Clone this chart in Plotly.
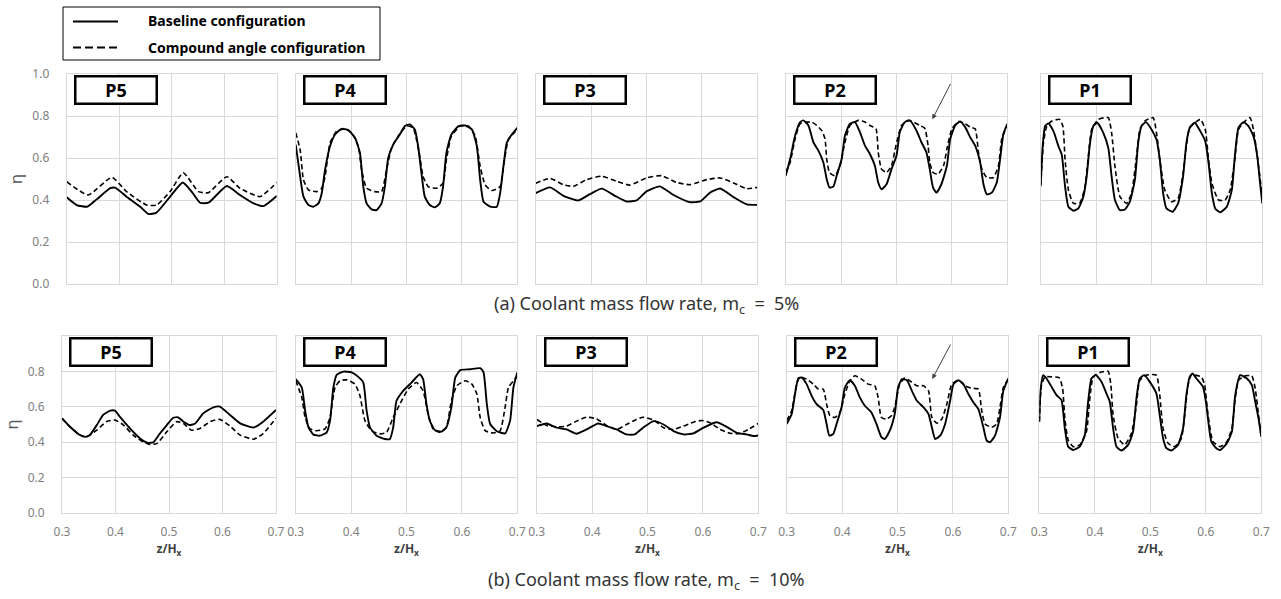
import plotly.graph_objects as go

# ---------------- DATA ----------------
PANEL_NAMES = ["P5", "P4", "P3", "P2", "P1"]
X_TICKS = [0.3, 0.4, 0.5, 0.6, 0.7]
Y_TICKS_TOP = [0.0, 0.2, 0.4, 0.6, 0.8, 1.0]
Y_TICKS_BOTTOM = [0.0, 0.2, 0.4, 0.6, 0.8]
LEGEND_NAMES = ["Baseline configuration", "Compound angle configuration"]
CAPTION_A = "(a) Coolant mass flow rate, m<sub>c</sub> \u00a0=\u00a0 5%"
CAPTION_B = "(b) Coolant mass flow rate, m<sub>c</sub> \u00a0=\u00a0 10%"

# ---- (a) m_c = 5% ----
A_P5_BASE_X = [0.300, 0.319, 0.339, 0.357, 0.383, 0.392, 0.414, 0.440, 0.456, 0.471, 0.497, 0.521, 0.538, 0.554, 0.570, 0.605, 0.630, 0.656, 0.675, 0.700]
A_P5_BASE_Y = [0.413, 0.376, 0.368, 0.403, 0.456, 0.459, 0.416, 0.368, 0.333, 0.340, 0.416, 0.483, 0.440, 0.387, 0.387, 0.467, 0.424, 0.384, 0.371, 0.419]
A_P5_COMP_X = [0.300, 0.341, 0.386, 0.414, 0.452, 0.471, 0.497, 0.522, 0.551, 0.570, 0.605, 0.630, 0.668, 0.700]
A_P5_COMP_Y = [0.487, 0.424, 0.508, 0.440, 0.376, 0.376, 0.440, 0.530, 0.440, 0.435, 0.511, 0.456, 0.416, 0.483]

A_P4_BASE_X = [0.300, 0.308, 0.314, 0.323, 0.332, 0.341, 0.347, 0.353, 0.362, 0.371, 0.383, 0.395, 0.407, 0.416, 0.422, 0.428, 0.437, 0.446, 0.455, 0.461, 0.467, 0.476, 0.488, 0.497, 0.506, 0.515, 0.521, 0.527, 0.533, 0.542, 0.551, 0.560, 0.566, 0.572, 0.581, 0.594, 0.606, 0.618, 0.627, 0.633, 0.639, 0.651, 0.663, 0.669, 0.675, 0.681, 0.690, 0.700]
A_P4_BASE_Y = [0.664, 0.512, 0.416, 0.376, 0.368, 0.384, 0.432, 0.544, 0.656, 0.712, 0.739, 0.733, 0.696, 0.624, 0.464, 0.384, 0.355, 0.352, 0.384, 0.464, 0.600, 0.664, 0.712, 0.752, 0.760, 0.736, 0.656, 0.528, 0.416, 0.376, 0.365, 0.384, 0.464, 0.624, 0.712, 0.752, 0.755, 0.736, 0.656, 0.496, 0.392, 0.368, 0.368, 0.432, 0.560, 0.672, 0.712, 0.744]
A_P4_COMP_X = [0.300, 0.308, 0.314, 0.323, 0.338, 0.347, 0.353, 0.362, 0.374, 0.389, 0.401, 0.413, 0.419, 0.428, 0.443, 0.455, 0.464, 0.473, 0.485, 0.500, 0.512, 0.518, 0.524, 0.530, 0.539, 0.554, 0.566, 0.572, 0.581, 0.597, 0.612, 0.624, 0.633, 0.642, 0.654, 0.669, 0.675, 0.684, 0.700]
A_P4_COMP_Y = [0.720, 0.640, 0.496, 0.448, 0.440, 0.456, 0.512, 0.672, 0.728, 0.739, 0.720, 0.656, 0.544, 0.456, 0.440, 0.440, 0.544, 0.648, 0.704, 0.752, 0.744, 0.688, 0.608, 0.512, 0.464, 0.456, 0.480, 0.592, 0.704, 0.752, 0.752, 0.704, 0.560, 0.472, 0.445, 0.464, 0.560, 0.688, 0.736]

A_P3_BASE_X = [0.300, 0.326, 0.350, 0.377, 0.398, 0.419, 0.443, 0.464, 0.482, 0.500, 0.524, 0.548, 0.578, 0.597, 0.615, 0.633, 0.657, 0.681, 0.700]
A_P3_BASE_Y = [0.433, 0.460, 0.420, 0.398, 0.428, 0.454, 0.420, 0.393, 0.398, 0.441, 0.465, 0.425, 0.390, 0.393, 0.436, 0.455, 0.414, 0.379, 0.377]
A_P3_COMP_X = [0.300, 0.326, 0.350, 0.368, 0.392, 0.419, 0.446, 0.470, 0.500, 0.527, 0.554, 0.578, 0.609, 0.633, 0.657, 0.681, 0.700]
A_P3_COMP_Y = [0.480, 0.503, 0.473, 0.465, 0.497, 0.513, 0.489, 0.471, 0.505, 0.516, 0.484, 0.473, 0.497, 0.505, 0.481, 0.454, 0.460]

A_P2_BASE_X = [0.300, 0.308, 0.317, 0.326, 0.332, 0.341, 0.350, 0.359, 0.368, 0.374, 0.379, 0.386, 0.392, 0.401, 0.407, 0.416, 0.425, 0.434, 0.443, 0.452, 0.461, 0.467, 0.473, 0.482, 0.491, 0.500, 0.506, 0.515, 0.524, 0.536, 0.545, 0.554, 0.560, 0.566, 0.572, 0.581, 0.591, 0.597, 0.606, 0.615, 0.624, 0.633, 0.642, 0.651, 0.657, 0.663, 0.672, 0.681, 0.687, 0.693, 0.700]
A_P2_BASE_Y = [0.515, 0.595, 0.707, 0.771, 0.779, 0.755, 0.675, 0.635, 0.579, 0.499, 0.459, 0.464, 0.515, 0.595, 0.707, 0.763, 0.771, 0.723, 0.659, 0.619, 0.563, 0.483, 0.451, 0.475, 0.547, 0.611, 0.723, 0.771, 0.779, 0.731, 0.675, 0.627, 0.547, 0.459, 0.435, 0.475, 0.563, 0.691, 0.755, 0.774, 0.747, 0.699, 0.659, 0.579, 0.475, 0.427, 0.435, 0.483, 0.595, 0.715, 0.763]
A_P2_COMP_X = [0.300, 0.308, 0.317, 0.326, 0.338, 0.347, 0.356, 0.365, 0.371, 0.374, 0.379, 0.389, 0.398, 0.407, 0.416, 0.431, 0.443, 0.452, 0.463, 0.467, 0.473, 0.482, 0.491, 0.499, 0.509, 0.521, 0.533, 0.542, 0.551, 0.557, 0.560, 0.566, 0.575, 0.585, 0.591, 0.600, 0.612, 0.624, 0.633, 0.642, 0.648, 0.654, 0.663, 0.675, 0.684, 0.690, 0.700]
A_P2_COMP_Y = [0.531, 0.579, 0.691, 0.763, 0.771, 0.771, 0.755, 0.731, 0.691, 0.595, 0.531, 0.515, 0.563, 0.675, 0.755, 0.779, 0.771, 0.755, 0.739, 0.627, 0.547, 0.531, 0.563, 0.659, 0.755, 0.779, 0.768, 0.755, 0.742, 0.659, 0.579, 0.531, 0.523, 0.563, 0.643, 0.739, 0.774, 0.763, 0.747, 0.739, 0.627, 0.547, 0.507, 0.507, 0.563, 0.691, 0.755]

A_P1_BASE_X = [0.300, 0.304, 0.308, 0.314, 0.323, 0.332, 0.338, 0.344, 0.350, 0.359, 0.368, 0.377, 0.383, 0.389, 0.395, 0.402, 0.413, 0.422, 0.428, 0.434, 0.443, 0.452, 0.461, 0.470, 0.476, 0.482, 0.490, 0.500, 0.509, 0.515, 0.521, 0.527, 0.538, 0.548, 0.557, 0.563, 0.569, 0.578, 0.588, 0.597, 0.603, 0.609, 0.615, 0.624, 0.636, 0.645, 0.651, 0.657, 0.666, 0.675, 0.684, 0.691, 0.696, 0.700]
A_P1_BASE_Y = [0.472, 0.672, 0.752, 0.765, 0.728, 0.656, 0.616, 0.464, 0.368, 0.349, 0.360, 0.416, 0.512, 0.672, 0.752, 0.768, 0.720, 0.648, 0.512, 0.400, 0.352, 0.355, 0.392, 0.496, 0.672, 0.752, 0.771, 0.736, 0.688, 0.592, 0.432, 0.360, 0.344, 0.384, 0.512, 0.672, 0.744, 0.768, 0.728, 0.680, 0.576, 0.432, 0.360, 0.341, 0.368, 0.448, 0.624, 0.744, 0.771, 0.752, 0.704, 0.608, 0.480, 0.384]
A_P1_COMP_X = [0.300, 0.305, 0.311, 0.320, 0.334, 0.340, 0.344, 0.350, 0.359, 0.371, 0.380, 0.386, 0.392, 0.404, 0.422, 0.428, 0.434, 0.443, 0.455, 0.464, 0.473, 0.479, 0.488, 0.503, 0.509, 0.515, 0.524, 0.536, 0.548, 0.557, 0.563, 0.569, 0.588, 0.597, 0.603, 0.609, 0.621, 0.633, 0.642, 0.651, 0.657, 0.669, 0.678, 0.684, 0.691, 0.700]
A_P1_COMP_Y = [0.464, 0.672, 0.752, 0.776, 0.784, 0.752, 0.592, 0.448, 0.384, 0.387, 0.464, 0.608, 0.736, 0.784, 0.792, 0.720, 0.560, 0.416, 0.384, 0.432, 0.608, 0.736, 0.776, 0.792, 0.720, 0.592, 0.448, 0.392, 0.408, 0.528, 0.656, 0.744, 0.784, 0.736, 0.592, 0.480, 0.400, 0.400, 0.448, 0.608, 0.736, 0.776, 0.792, 0.736, 0.608, 0.416]

# ---- (b) m_c = 10% ----
B_P5_BASE_X = [0.300, 0.315, 0.331, 0.343, 0.352, 0.365, 0.377, 0.390, 0.399, 0.408, 0.427, 0.446, 0.461, 0.471, 0.483, 0.496, 0.508, 0.517, 0.527, 0.539, 0.549, 0.564, 0.583, 0.595, 0.614, 0.633, 0.658, 0.676, 0.700]
B_P5_BASE_Y = [0.535, 0.487, 0.445, 0.430, 0.440, 0.497, 0.554, 0.578, 0.578, 0.544, 0.478, 0.421, 0.396, 0.400, 0.449, 0.497, 0.538, 0.540, 0.516, 0.497, 0.506, 0.563, 0.597, 0.601, 0.554, 0.506, 0.483, 0.516, 0.582]
B_P5_COMP_X = [0.300, 0.315, 0.334, 0.346, 0.365, 0.383, 0.399, 0.415, 0.433, 0.452, 0.464, 0.477, 0.496, 0.514, 0.527, 0.542, 0.558, 0.577, 0.595, 0.614, 0.633, 0.658, 0.676, 0.700]
B_P5_COMP_Y = [0.535, 0.487, 0.440, 0.430, 0.468, 0.516, 0.525, 0.497, 0.440, 0.402, 0.387, 0.392, 0.459, 0.516, 0.506, 0.468, 0.478, 0.516, 0.529, 0.491, 0.440, 0.417, 0.449, 0.535]

B_P4_BASE_X = [0.300, 0.311, 0.317, 0.323, 0.332, 0.344, 0.356, 0.362, 0.368, 0.374, 0.386, 0.401, 0.413, 0.422, 0.428, 0.434, 0.446, 0.461, 0.470, 0.476, 0.482, 0.494, 0.509, 0.524, 0.530, 0.536, 0.542, 0.551, 0.563, 0.572, 0.581, 0.588, 0.597, 0.615, 0.633, 0.639, 0.645, 0.651, 0.663, 0.678, 0.687, 0.693, 0.700]
B_P4_BASE_Y = [0.756, 0.709, 0.578, 0.484, 0.443, 0.437, 0.456, 0.522, 0.709, 0.780, 0.799, 0.794, 0.769, 0.737, 0.578, 0.484, 0.437, 0.418, 0.418, 0.484, 0.634, 0.690, 0.737, 0.784, 0.756, 0.615, 0.522, 0.469, 0.460, 0.484, 0.597, 0.765, 0.807, 0.812, 0.818, 0.794, 0.615, 0.503, 0.462, 0.450, 0.522, 0.709, 0.794]
B_P4_COMP_X = [0.300, 0.311, 0.317, 0.326, 0.338, 0.353, 0.362, 0.371, 0.380, 0.392, 0.407, 0.416, 0.425, 0.437, 0.452, 0.464, 0.476, 0.488, 0.503, 0.518, 0.530, 0.539, 0.548, 0.560, 0.572, 0.581, 0.591, 0.606, 0.618, 0.627, 0.633, 0.642, 0.657, 0.669, 0.678, 0.684, 0.693, 0.700]
B_P4_COMP_Y = [0.747, 0.653, 0.540, 0.475, 0.465, 0.475, 0.540, 0.709, 0.747, 0.752, 0.728, 0.662, 0.522, 0.465, 0.447, 0.456, 0.540, 0.615, 0.700, 0.737, 0.690, 0.559, 0.475, 0.456, 0.484, 0.634, 0.719, 0.747, 0.728, 0.672, 0.540, 0.465, 0.452, 0.465, 0.597, 0.709, 0.747, 0.775]

B_P3_BASE_X = [0.300, 0.318, 0.336, 0.354, 0.372, 0.390, 0.411, 0.426, 0.444, 0.462, 0.477, 0.492, 0.511, 0.529, 0.547, 0.565, 0.583, 0.601, 0.625, 0.643, 0.661, 0.679, 0.691, 0.700]
B_P3_BASE_Y = [0.491, 0.506, 0.482, 0.472, 0.448, 0.472, 0.506, 0.491, 0.472, 0.444, 0.444, 0.482, 0.519, 0.500, 0.463, 0.444, 0.450, 0.482, 0.513, 0.487, 0.453, 0.444, 0.435, 0.438]
B_P3_COMP_X = [0.300, 0.318, 0.336, 0.354, 0.372, 0.390, 0.408, 0.426, 0.444, 0.462, 0.480, 0.492, 0.511, 0.529, 0.547, 0.565, 0.583, 0.598, 0.613, 0.631, 0.649, 0.667, 0.682, 0.700]
B_P3_COMP_Y = [0.528, 0.495, 0.487, 0.491, 0.519, 0.541, 0.532, 0.495, 0.472, 0.500, 0.528, 0.541, 0.525, 0.482, 0.472, 0.491, 0.513, 0.523, 0.510, 0.472, 0.450, 0.450, 0.472, 0.506]

B_P2_BASE_X = [0.300, 0.309, 0.315, 0.321, 0.327, 0.336, 0.345, 0.354, 0.366, 0.372, 0.377, 0.384, 0.390, 0.399, 0.405, 0.414, 0.423, 0.432, 0.441, 0.453, 0.462, 0.471, 0.477, 0.486, 0.495, 0.501, 0.508, 0.517, 0.526, 0.535, 0.547, 0.556, 0.562, 0.568, 0.577, 0.586, 0.595, 0.601, 0.610, 0.619, 0.628, 0.637, 0.646, 0.655, 0.661, 0.667, 0.676, 0.685, 0.691, 0.700]
B_P2_BASE_Y = [0.503, 0.559, 0.672, 0.762, 0.765, 0.728, 0.662, 0.615, 0.582, 0.503, 0.437, 0.447, 0.503, 0.597, 0.709, 0.750, 0.719, 0.653, 0.606, 0.568, 0.503, 0.428, 0.418, 0.465, 0.559, 0.709, 0.756, 0.750, 0.690, 0.634, 0.597, 0.559, 0.484, 0.418, 0.437, 0.503, 0.634, 0.728, 0.750, 0.728, 0.672, 0.625, 0.587, 0.484, 0.409, 0.400, 0.437, 0.540, 0.690, 0.760]
B_P2_COMP_X = [0.300, 0.309, 0.318, 0.324, 0.336, 0.348, 0.357, 0.366, 0.372, 0.378, 0.387, 0.396, 0.405, 0.414, 0.423, 0.435, 0.447, 0.459, 0.465, 0.471, 0.480, 0.489, 0.495, 0.504, 0.513, 0.522, 0.535, 0.547, 0.556, 0.562, 0.571, 0.580, 0.589, 0.598, 0.610, 0.622, 0.634, 0.646, 0.652, 0.658, 0.670, 0.679, 0.685, 0.691, 0.700]
B_P2_COMP_Y = [0.522, 0.578, 0.728, 0.769, 0.756, 0.728, 0.700, 0.700, 0.615, 0.550, 0.540, 0.568, 0.672, 0.747, 0.775, 0.756, 0.728, 0.719, 0.653, 0.540, 0.531, 0.550, 0.597, 0.728, 0.762, 0.747, 0.719, 0.719, 0.690, 0.540, 0.507, 0.531, 0.615, 0.728, 0.750, 0.719, 0.705, 0.700, 0.578, 0.503, 0.484, 0.503, 0.597, 0.709, 0.756]

B_P1_BASE_X = [0.300, 0.302, 0.307, 0.313, 0.322, 0.331, 0.340, 0.346, 0.352, 0.361, 0.373, 0.382, 0.388, 0.394, 0.402, 0.412, 0.421, 0.427, 0.433, 0.439, 0.448, 0.460, 0.469, 0.475, 0.481, 0.489, 0.499, 0.511, 0.517, 0.523, 0.529, 0.538, 0.550, 0.559, 0.565, 0.571, 0.576, 0.583, 0.595, 0.601, 0.610, 0.619, 0.626, 0.638, 0.647, 0.653, 0.662, 0.674, 0.683, 0.689, 0.695, 0.700]
B_P1_BASE_Y = [0.516, 0.685, 0.779, 0.760, 0.713, 0.666, 0.638, 0.478, 0.375, 0.356, 0.375, 0.441, 0.629, 0.760, 0.779, 0.741, 0.675, 0.629, 0.478, 0.375, 0.353, 0.385, 0.460, 0.647, 0.760, 0.779, 0.741, 0.675, 0.553, 0.422, 0.366, 0.353, 0.385, 0.478, 0.666, 0.769, 0.788, 0.760, 0.713, 0.610, 0.403, 0.366, 0.356, 0.394, 0.460, 0.666, 0.779, 0.760, 0.722, 0.629, 0.535, 0.432]
B_P1_COMP_X = [0.300, 0.304, 0.310, 0.322, 0.336, 0.342, 0.346, 0.352, 0.361, 0.373, 0.385, 0.391, 0.397, 0.409, 0.424, 0.429, 0.433, 0.442, 0.454, 0.466, 0.475, 0.481, 0.493, 0.511, 0.517, 0.523, 0.532, 0.544, 0.556, 0.562, 0.568, 0.574, 0.592, 0.598, 0.604, 0.613, 0.626, 0.638, 0.647, 0.653, 0.659, 0.671, 0.683, 0.689, 0.695, 0.700]
B_P1_COMP_Y = [0.516, 0.722, 0.769, 0.769, 0.764, 0.704, 0.535, 0.413, 0.375, 0.385, 0.460, 0.647, 0.769, 0.794, 0.801, 0.722, 0.553, 0.422, 0.385, 0.450, 0.610, 0.750, 0.779, 0.779, 0.666, 0.478, 0.394, 0.375, 0.422, 0.553, 0.722, 0.779, 0.769, 0.722, 0.553, 0.403, 0.375, 0.403, 0.478, 0.647, 0.750, 0.775, 0.775, 0.704, 0.553, 0.422]

ROW_A = [(A_P5_BASE_X, A_P5_BASE_Y, A_P5_COMP_X, A_P5_COMP_Y),
         (A_P4_BASE_X, A_P4_BASE_Y, A_P4_COMP_X, A_P4_COMP_Y),
         (A_P3_BASE_X, A_P3_BASE_Y, A_P3_COMP_X, A_P3_COMP_Y),
         (A_P2_BASE_X, A_P2_BASE_Y, A_P2_COMP_X, A_P2_COMP_Y),
         (A_P1_BASE_X, A_P1_BASE_Y, A_P1_COMP_X, A_P1_COMP_Y)]
ROW_B = [(B_P5_BASE_X, B_P5_BASE_Y, B_P5_COMP_X, B_P5_COMP_Y),
         (B_P4_BASE_X, B_P4_BASE_Y, B_P4_COMP_X, B_P4_COMP_Y),
         (B_P3_BASE_X, B_P3_BASE_Y, B_P3_COMP_X, B_P3_COMP_Y),
         (B_P2_BASE_X, B_P2_BASE_Y, B_P2_COMP_X, B_P2_COMP_Y),
         (B_P1_BASE_X, B_P1_BASE_Y, B_P1_COMP_X, B_P1_COMP_Y)]

# ---------------- LAYOUT ----------------
W, H = 1281, 599
FONT = "Noto Sans"
GRID = "#d9d9d9"
TICKC = "#808080"

def px(x):
    return x / W

def py(y):
    return 1 - y / H

TOP_X_PX = [(66.7, 276.7), (295.7, 517.3), (535.7, 757.3), (785.7, 1007.3), (1040.7, 1262.3)]
BOT_X_PX = [(62.0, 276.0), (295.7, 517.3), (536.7, 758.3), (786.7, 1008.3), (1039.3, 1261.3)]
TOP_Y_PX = (74, 284)
BOT_Y_PX = (336, 513)

fig = go.Figure()
layout = dict(
    template="none",
    width=W, height=H, autosize=False, margin=dict(l=0, r=0, t=0, b=0, pad=0),
    paper_bgcolor="white", plot_bgcolor="white",
    showlegend=False, font=dict(family=FONT, color="#404040"),
)
annotations = []
shapes = []

for r, (rowdata, xpx, ypx) in enumerate([(ROW_A, TOP_X_PX, TOP_Y_PX), (ROW_B, BOT_X_PX, BOT_Y_PX)]):
    for i, (bx, by, cx, cy) in enumerate(rowdata):
        k = r * 5 + i + 1
        xs = "" if k == 1 else str(k)
        fig.add_trace(go.Scatter(
            x=bx, y=by, xaxis="x" + xs, yaxis="y" + xs, mode="lines",
            name=LEGEND_NAMES[0], hoverinfo="skip",
            line=dict(color="black", width=1.9, shape="spline", smoothing=0.5)))
        fig.add_trace(go.Scatter(
            x=cx, y=cy, xaxis="x" + xs, yaxis="y" + xs, mode="lines",
            name=LEGEND_NAMES[1], hoverinfo="skip",
            line=dict(color="black", width=1.6, dash="5px,3px", shape="spline", smoothing=0.5)))
        yt = Y_TICKS_TOP if r == 0 else Y_TICKS_BOTTOM
        xa = dict(
            domain=[px(xpx[i][0]), px(xpx[i][1])], anchor="y" + xs, automargin=False,
            range=[0.3, 0.7], tickvals=X_TICKS, ticktext=[f"{v:.1f}" for v in X_TICKS],
            showgrid=True, gridcolor=GRID, gridwidth=1, zeroline=False,
            showline=True, linecolor=GRID, linewidth=1, mirror=True, ticks="",
            showticklabels=(r == 1), tickfont=dict(size=12, color=TICKC, family=FONT),
            ticklabelstandoff=8,
        )
        if r == 1:
            xa["title"] = dict(text="<b>z/H<sub>x</sub></b>", font=dict(size=12, color="#404040", family=FONT), standoff=5)
        ya = dict(
            domain=[py(ypx[1]), py(ypx[0])], anchor="x" + xs, automargin=False,
            range=[0, 1], tickvals=yt, ticktext=[f"{v:.1f}" for v in yt],
            showgrid=True, gridcolor=GRID, gridwidth=1, zeroline=False,
            showline=True, linecolor=GRID, linewidth=1, mirror=True, ticks="",
            showticklabels=(i == 0), tickfont=dict(size=12, color=TICKC, family=FONT),
            ticklabelstandoff=14,
        )
        if i == 0:
            ya["title"] = dict(text="η", font=dict(size=17, color="#595959", family=FONT), standoff=5)
        layout["xaxis" + xs] = xa
        layout["yaxis" + xs] = ya
        annotations.append(dict(
            xref=f"x{xs} domain", yref=f"y{xs} domain", x=0, y=1, xshift=7, yshift=-1,
            xanchor="left", yanchor="top", showarrow=False,
            text=f"<b>{PANEL_NAMES[i]}</b>", font=dict(size=18, color="black", family=FONT),
            bgcolor="white", bordercolor="black", borderwidth=2.5, borderpad=1,
            width=77, height=23,
        ))

# arrows pointing at the compound-angle shoulder in P2
annotations.append(dict(xref="x4", yref="y4", x=0.5646, y=0.784, ax=19, ay=-37, text="",
                        showarrow=True, arrowhead=2, arrowsize=1, arrowwidth=1, arrowcolor="#404040"))
annotations.append(dict(xref="x9", yref="y9", x=0.5628, y=0.757, ax=19, ay=-36, text="",
                        showarrow=True, arrowhead=2, arrowsize=1, arrowwidth=1, arrowcolor="#404040"))

# captions
annotations.append(dict(xref="paper", yref="paper", x=px(646), y=py(304), xanchor="center", yanchor="middle",
                        showarrow=False, text=CAPTION_A, font=dict(size=18, color="#333333", family=FONT)))
annotations.append(dict(xref="paper", yref="paper", x=px(646), y=py(580), xanchor="center", yanchor="middle",
                        showarrow=False, text=CAPTION_B, font=dict(size=18, color="#333333", family=FONT)))

# legend box (drawn)
shapes.append(dict(type="rect", xref="paper", yref="paper", x0=px(63), x1=px(380), y0=py(60), y1=py(7),
                   line=dict(color="black", width=1), fillcolor="white", layer="above"))
shapes.append(dict(type="line", xref="paper", yref="paper", x0=px(73), x1=px(118), y0=py(21.5), y1=py(21.5),
                   line=dict(color="black", width=2.2)))
shapes.append(dict(type="line", xref="paper", yref="paper", x0=px(73), x1=px(118), y0=py(47.5), y1=py(47.5),
                   line=dict(color="black", width=2.2, dash="8px,4px")))
annotations.append(dict(xref="paper", yref="paper", x=px(146), y=py(21), xanchor="left", yanchor="middle",
                        showarrow=False, text="<b>" + LEGEND_NAMES[0] + "</b>",
                        font=dict(size=14, color="black", family=FONT)))
annotations.append(dict(xref="paper", yref="paper", x=px(146), y=py(47), xanchor="left", yanchor="middle",
                        showarrow=False, text="<b>" + LEGEND_NAMES[1] + "</b>",
                        font=dict(size=14, color="black", family=FONT)))

layout["annotations"] = annotations
layout["shapes"] = shapes
fig.update_layout(**layout)
# remove the browser's default 8px body margin so the figure sits at the window origin
fig.write_html("out.html", config={"displayModeBar": False, "staticPlot": True},
               post_script="document.body.style.margin = '0px';")
